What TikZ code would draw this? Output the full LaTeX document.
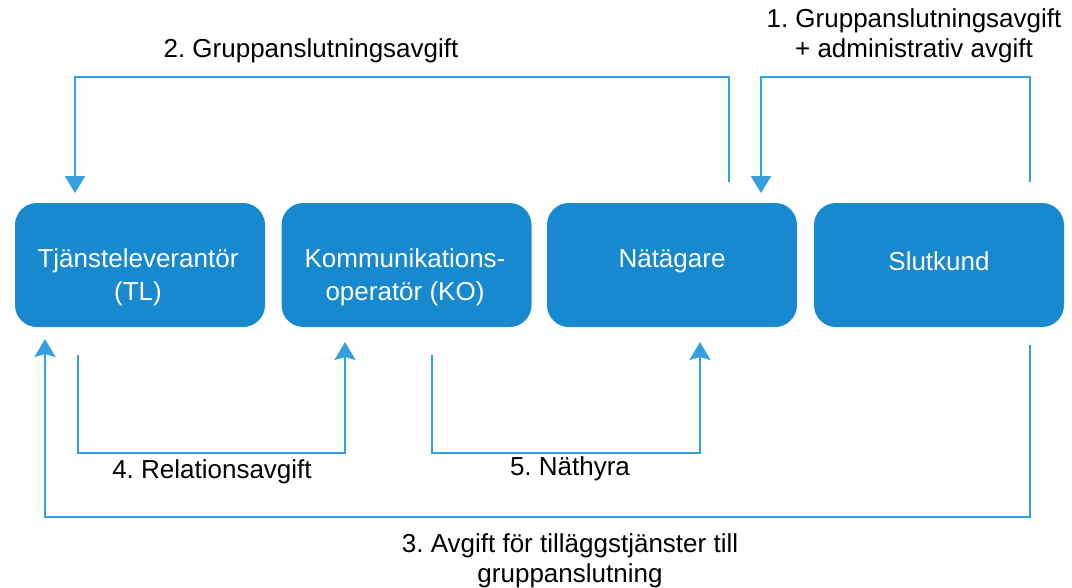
\documentclass[tikz,border=0pt]{standalone}
\usepackage{fontspec}
\setmainfont{Liberation Sans}
\frenchspacing
\usetikzlibrary{arrows.meta}
\definecolor{boxblue}{RGB}{24,136,207}
\definecolor{lineblue}{RGB}{52,160,222}
\tikzset{
  party/.style={draw=none, fill=boxblue, rounded corners=22pt, minimum width=250pt, minimum height=124pt, inner sep=0pt},
  partytext/.style={text=white, align=center, font=\fontsize{26}{33}\selectfont, inner sep=0pt},
  flow/.style={draw=lineblue, line width=2.4pt},
  flowdown/.style={flow, -{Triangle[width=20pt,length=17pt]}},
  flowup/.style={flow, -{Stealth[width=21pt,length=18pt,inset=3pt]}},
  lbl/.style={text=black, align=center, font=\fontsize{26}{30}\selectfont, inner sep=0pt}
}
\begin{document}
\begin{tikzpicture}[x=1pt,y=-1pt]
\useasboundingbox (0,0) rectangle (1072,587);
\fill[white] (0,0) rectangle (1072,587);

\node[party] (TL) at (140,265) {};
\node[party] (KO) at (406.5,265) {};
\node[party] (NA) at (672,265) {};
\node[party] (SK) at (939,265) {};

\node[partytext] (tTL) at (138,277) {Tjänsteleverantör\\(TL)};
\node[partytext] (tKO) at (405,277) {Kommunikations-\\operatör (KO)};
\node[partytext] (tNA) at (672,261) {Nätägare};
\node[partytext] (tSK) at (939,261) {Slutkund};

% connector 1
\coordinate (c1s) at (1030,182);
\coordinate (c1m) at (761,77);
\coordinate (c1e) at (761,193);
\draw[flowdown] (c1s) |- (c1m) -- (c1e);
% connector 2
\coordinate (c2s) at (729,182);
\coordinate (c2m) at (75,77);
\coordinate (c2e) at (75,193);
\draw[flowdown] (c2s) |- (c2m) -- (c2e);
% connector 3
\coordinate (c3s) at (1030,345);
\coordinate (c3m) at (45,517);
\coordinate (c3e) at (45,339);
\draw[flowup] (c3s) |- (c3m) -- (c3e);
% connector 4
\coordinate (c4s) at (78,355);
\coordinate (c4m) at (345,453);
\coordinate (c4e) at (345,342);
\draw[flowup] (c4s) |- (c4m) -- (c4e);
% connector 5
\coordinate (c5s) at (432,355);
\coordinate (c5m) at (700,453);
\coordinate (c5e) at (700,342);
\draw[flowup] (c5s) |- (c5m) -- (c5e);

\node[lbl] (l1) at (914,36) {1. Gruppanslutningsavgift\\+ administrativ avgift};
\node[lbl] (l2) at (311,51) {2. Gruppanslutningsavgift};
\node[lbl] (l3) at (570,561) {3. Avgift för tilläggstjänster till\\gruppanslutning};
\node[lbl] (l4) at (212,472) {4. Relationsavgift};
\node[lbl] (l5) at (570,469) {5. Näthyra};
\end{tikzpicture}
\end{document}
